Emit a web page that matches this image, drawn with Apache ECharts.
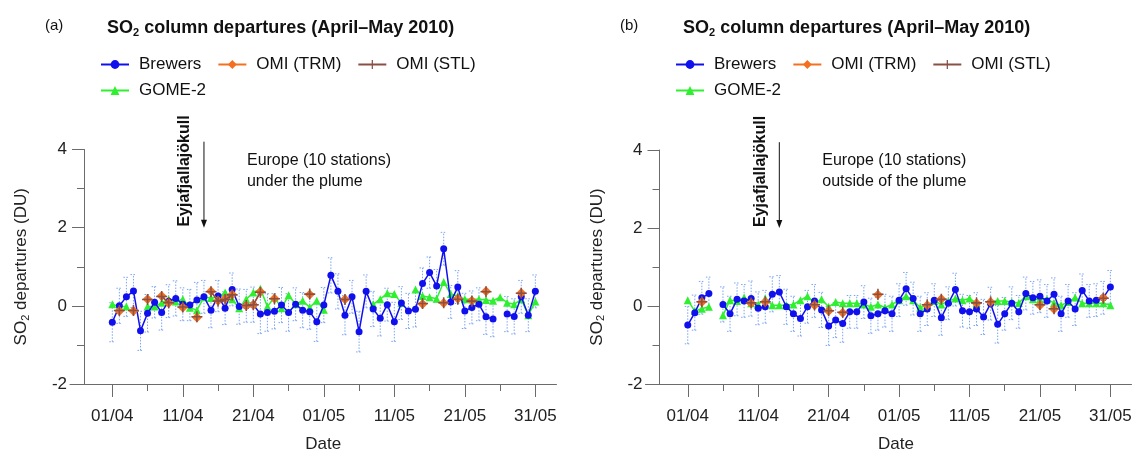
<!DOCTYPE html>
<html>
<head>
<meta charset="utf-8">
<script src="https://cdn.jsdelivr.net/npm/echarts@6/dist/echarts.min.js"></script>
<style>
  html, body { margin: 0; padding: 0; background: #fff; }
  #chart { width: 1135px; height: 458px; }
</style>
</head>
<body>
<div id="chart"></div>
<script>
// day index: 0 = 01/04/2010 ... 60 = 31/05/2010
const days = Array.from({length: 61}, (_, i) => i);
const tickDays = [0, 10, 20, 30, 40, 50, 60];
const tickLabels = ['01/04', '11/04', '21/04', '01/05', '11/05', '21/05', '31/05'];
const minorDays = [5, 15, 25, 35, 45, 55];

// (a) under the plume
const brewersA = [-0.42, 0.0, 0.23, 0.38, -0.64, -0.19, 0.09, -0.17, 0.12, 0.19,
  0.04, 0.02, 0.15, 0.23, -0.11, 0.25, -0.06, 0.42, -0.02, 0.0,
  0.03, -0.21, -0.17, -0.14, 0.02, -0.17, 0.04, -0.11, -0.15, -0.41,
  0.02, 0.78, 0.37, -0.24, 0.23, -0.66, 0.37, -0.08, -0.32, 0.03,
  -0.41, 0.07, -0.13, -0.09, 0.57, 0.85, 0.51, 1.46, 0.10, 0.48,
  -0.13, -0.04, 0.04, -0.28, -0.34, null, -0.21, -0.27, 0.23, -0.24, 0.37];
const brewersErrA = [0.5, 0.45, 0.5, 0.42, 0.5, 0.48, 0.4, 0.45, 0.42, 0.45,
  0.42, 0.4, 0.45, 0.42, 0.45, 0.4, 0.42, 0.42, 0.45, 0.42,
  0.45, 0.5, 0.48, 0.45, 0.45, 0.48, 0.42, 0.45, 0.45, 0.5,
  0.45, 0.45, 0.45, 0.5, 0.42, 0.52, 0.42, 0.45, 0.45, 0.42,
  0.5, 0.42, 0.45, 0.45, 0.4, 0.4, 0.42, 0.42, 0.42, 0.42,
  0.45, 0.42, 0.42, 0.45, 0.45, null, 0.45, 0.45, 0.42, 0.42, 0.42];
const gomeA = [0.04, -0.02, -0.02, null, null, -0.02, -0.02, 0.08, 0.17, 0.11,
  0.17, -0.05, -0.11, 0.22, 0.2, 0.22, 0.34, 0.17, -0.06, 0.17,
  0.34, 0.44, -0.02, 0.22, -0.06, 0.27, 0.04, 0.13, -0.04, 0.13,
  -0.1, null, null, null, null, null, null, 0.04, 0.17, 0.32,
  0.3, 0.07, null, 0.42, 0.25, 0.22, 0.18, 0.61, 0.30, 0.25,
  0.17, 0.17, 0.17, 0.15, 0.13, 0.22, 0.08, 0.04, 0.17, -0.24, 0.11];
const omiTrmA = [null, -0.13, null, -0.13, null, 0.17, null, 0.25, 0.07, null,
  -0.04, null, -0.3, null, 0.37, 0.13, 0.18, 0.29, null, 0.0,
  0.02, 0.36, null, 0.19, null, null, null, null, 0.29, null,
  null, null, null, 0.17, null, null, null, null, null, null,
  null, null, null, null, 0.05, null, null, 0.07, null, 0.18,
  null, 0.13, null, 0.37, null, null, null, null, 0.33, null, null];
const omiStlA = [null, -0.12, null, -0.12, null, 0.16, null, 0.24, 0.08, null,
  -0.03, null, -0.28, null, 0.36, 0.12, 0.16, 0.28, null, 0.01,
  0.03, 0.35, null, 0.18, null, null, null, null, 0.3, null,
  null, null, null, 0.16, null, null, null, null, null, null,
  null, null, null, null, 0.06, null, null, 0.08, null, 0.17,
  null, 0.12, null, 0.36, null, null, null, null, 0.32, null, null];

// (b) outside of the plume
const brewersB = [-0.49, -0.17, 0.21, 0.32, null, 0.04, -0.2, 0.17, 0.13, 0.19,
  -0.06, -0.02, 0.3, 0.36, -0.02, -0.2, -0.32, -0.02, 0.13, -0.1,
  -0.51, -0.36, -0.45, -0.15, -0.15, 0.1, -0.25, -0.2, -0.12, -0.2,
  0.15, 0.44, 0.19, -0.2, -0.08, 0.15, -0.3, 0.07, 0.42, -0.12,
  -0.15, -0.08, -0.28, 0.06, -0.47, -0.2, 0.07, -0.15, 0.32, 0.21,
  0.25, 0.13, 0.3, -0.2, 0.13, -0.08, 0.4, 0.13, 0.15, 0.21, 0.49];
const brewersErrB = [0.48, 0.45, 0.42, 0.42, null, 0.45, 0.45, 0.42, 0.42, 0.45,
  0.42, 0.42, 0.45, 0.42, 0.45, 0.45, 0.45, 0.42, 0.42, 0.45,
  0.5, 0.45, 0.48, 0.42, 0.42, 0.42, 0.45, 0.42, 0.42, 0.45,
  0.42, 0.42, 0.42, 0.45, 0.42, 0.42, 0.45, 0.42, 0.42, 0.42,
  0.42, 0.42, 0.45, 0.42, 0.48, 0.42, 0.42, 0.42, 0.42, 0.42,
  0.42, 0.42, 0.42, 0.45, 0.42, 0.42, 0.42, 0.42, 0.42, 0.42, 0.42];
const gomeB = [0.15, -0.13, -0.07, -0.02, null, -0.24, 0.15, 0.13, 0.22, 0.07,
  0.04, 0.19, 0.02, 0.02, 0.02, 0.04, 0.15, 0.25, 0.07, 0.17,
  -0.02, 0.1, 0.07, 0.07, 0.07, 0.04, -0.02, 0.04, -0.04, 0.04,
  0.15, 0.25, 0.15, -0.04, 0.02, 0.13, 0.04, 0.13, 0.19, 0.15,
  0.19, 0.08, null, 0.13, 0.13, 0.13, 0.1, 0.08, 0.25, 0.17,
  0.17, 0.17, 0.08, 0.02, 0.1, 0.22, 0.07, 0.07, 0.07, 0.07, 0.02];
const omiTrmB = [null, null, 0.1, null, null, null, null, null, null, 0.07,
  null, 0.1, null, null, null, null, null, null, 0.02, null,
  -0.13, null, -0.17, null, null, null, null, 0.29, null, null,
  null, null, null, null, 0.02, null, 0.18, null, null, null,
  null, 0.07, null, 0.1, null, null, null, null, null, null,
  0.02, null, -0.08, null, null, null, null, null, null, 0.21, null];
const omiStlB = [null, null, 0.11, null, null, null, null, null, null, 0.08,
  null, 0.11, null, null, null, null, null, null, 0.03, null,
  -0.12, null, -0.16, null, null, null, null, 0.3, null, null,
  null, null, null, null, 0.03, null, 0.17, null, null, null,
  null, 0.08, null, 0.11, null, null, null, null, null, null,
  0.03, null, -0.07, null, null, null, null, null, null, 0.2, null];

const FONT = '"Liberation Sans", Arial, sans-serif';
const AXIS_COLOR = '#6b6b6b';
const BLUE = '#1010ee';
const GREEN = '#2ef02e';
const ORANGE = '#f2701f';
const BROWN = '#8a4f45';
const ERR = '#7aa4f5';
const PLUS = 'path://M4.3,0H5.7V4.3H10V5.7H5.7V10H4.3V5.7H0V4.3H4.3Z';

const chart = echarts.init(document.getElementById('chart'));

function pairs(values) {
  return values.map((v, i) => [days[i], v]);
}

// dotted error bars of the Brewer network
function errorBars(values, errs, idx) {
  const data = [];
  values.forEach((v, i) => {
    if (v != null && errs[i] != null) data.push([days[i], v - errs[i], v + errs[i]]);
  });
  return {
    type: 'custom',
    xAxisIndex: idx,
    yAxisIndex: idx,
    silent: true,
    z: 1,
    data: data,
    renderItem: function(params, api) {
      const lo = api.coord([api.value(0), api.value(1)]);
      const hi = api.coord([api.value(0), api.value(2)]);
      const w = 3;
      const st = {stroke: ERR, lineWidth: 1, lineDash: [1.5, 1.5], fill: null};
      return {
        type: 'group',
        children: [
          {type: 'line', shape: {x1: lo[0], y1: lo[1], x2: hi[0], y2: hi[1]}, style: st},
          {type: 'line', shape: {x1: lo[0] - w, y1: lo[1], x2: lo[0] + w, y2: lo[1]}, style: st},
          {type: 'line', shape: {x1: hi[0] - w, y1: hi[1], x2: hi[0] + w, y2: hi[1]}, style: st}
        ]
      };
    }
  };
}

function line(name, values, idx, color, symbol, size, width, z) {
  return {
    name: name,
    type: 'line',
    xAxisIndex: idx,
    yAxisIndex: idx,
    data: pairs(values),
    symbol: symbol,
    symbolSize: size,
    showAllSymbol: true,
    lineStyle: {color: color, width: width},
    itemStyle: {color: color},
    z: z,
    animation: false
  };
}

function panelSeries(idx, brewers, errs, gome, trm, stl) {
  return [
    errorBars(brewers, errs, idx),
    line('GOME-2', gome, idx, GREEN, 'triangle', 8, 1.5, 2),
    line('Brewers', brewers, idx, BLUE, 'circle', 7, 1.5, 3),
    line('OMI (TRM)', trm, idx, ORANGE, 'diamond', 10, 1.5, 4),
    line('OMI (STL)', stl, idx, BROWN, PLUS, 11, 1.5, 5)
  ];
}

function xAxisMain(gridIndex, shift) {
  return {
    type: 'value', gridIndex: gridIndex, position: 'bottom',
    min: -6, max: 63,
    name: 'Date', nameLocation: 'middle', nameGap: 52,
    nameTextStyle: {fontSize: 17, color: '#222', fontFamily: FONT, padding: [0, 0, 0, shift]},
    axisLine: {onZero: false, lineStyle: {color: AXIS_COLOR}},
    axisTick: {customValues: tickDays, length: 13, lineStyle: {color: AXIS_COLOR}},
    axisLabel: {
      customValues: tickDays, margin: 24, fontSize: 17, color: '#222', fontFamily: FONT,
      formatter: v => tickLabels[tickDays.indexOf(v)]
    },
    splitLine: {show: false}
  };
}

function xAxisMinor(gridIndex) {
  return {
    type: 'value', gridIndex: gridIndex, position: 'bottom',
    min: -6, max: 63,
    axisLine: {show: false, onZero: false},
    axisTick: {customValues: minorDays, length: 7, lineStyle: {color: AXIS_COLOR}},
    axisLabel: {show: false},
    splitLine: {show: false}
  };
}

function yAxis(gridIndex) {
  return {
    type: 'value', gridIndex: gridIndex,
    min: -2, max: 4, interval: 2,
    offset: -14,
    name: '{a|SO}{s|2}{a| departures (DU)}',
    nameLocation: 'middle', nameGap: 53,
    nameTextStyle: {
      rich: {
        a: {fontSize: 17, color: '#222', fontFamily: FONT},
        s: {fontSize: 11, color: '#222', fontFamily: FONT, verticalAlign: 'bottom', padding: [8, 0, 0, 0]}
      }
    },
    axisLine: {show: true, onZero: false, lineStyle: {color: AXIS_COLOR}},
    axisTick: {show: true, length: 12, lineStyle: {color: AXIS_COLOR}},
    minorTick: {show: true, splitNumber: 2, length: 7, lineStyle: {color: AXIS_COLOR}},
    axisLabel: {margin: 17, fontSize: 17, color: '#222', fontFamily: FONT},
    splitLine: {show: false}
  };
}

const titleRich = {
  b: {fontSize: 18, fontWeight: 'bold', color: '#111', fontFamily: FONT},
  s: {fontSize: 11, fontWeight: 'bold', color: '#111', fontFamily: FONT, verticalAlign: 'bottom', padding: [9, 0, 0, 0]}
};
const titleText = '{b|SO}{s|2}{b| column departures (April\u2013May 2010)}';

function legends(left) {
  const base = {
    left: left, orient: 'horizontal', itemWidth: 28, itemHeight: 11, itemGap: 16,
    textStyle: {fontSize: 17, color: '#111', fontFamily: FONT, padding: [0, 0, 0, 5]},
    selectedMode: false
  };
  return [
    Object.assign({}, base, {top: 51, data: ['Brewers', 'OMI (TRM)', 'OMI (STL)']}),
    Object.assign({}, base, {top: 77, data: ['GOME-2']})
  ];
}

chart.setOption({
  backgroundColor: '#fff',
  animation: false,
  title: [
    {text: '(a)', left: 40, top: 13, textStyle: {fontSize: 15, fontWeight: 'normal', color: '#111', fontFamily: FONT}},
    {text: titleText, left: 102, top: 13, textStyle: {rich: titleRich}},
    {text: '(b)', left: 615, top: 13, textStyle: {fontSize: 15, fontWeight: 'normal', color: '#111', fontFamily: FONT}},
    {text: titleText, left: 678, top: 13, textStyle: {rich: titleRich}}
  ],
  legend: legends(95).concat(legends(670)),
  grid: [
    {left: 70, top: 149.5, width: 486.5, height: 236.5},
    {left: 645.5, top: 150, width: 486, height: 236}
  ],
  xAxis: [xAxisMain(0, 20), xAxisMain(1, 15), xAxisMinor(0), xAxisMinor(1)],
  yAxis: [yAxis(0), yAxis(1)],
  series: panelSeries(0, brewersA, brewersErrA, gomeA, omiTrmA, omiStlA)
    .concat(panelSeries(1, brewersB, brewersErrB, gomeB, omiTrmB, omiStlB))
});

// annotations placed in data coordinates
const notes = [
  {grid: 0, lines: ['Europe (10 stations)', 'under the plume']},
  {grid: 1, lines: ['Europe (10 stations)', 'outside of the plume']}
];
const graphics = [];
notes.forEach(n => {
  const top = chart.convertToPixel({gridIndex: n.grid}, [13, 4.2]);
  const tip = chart.convertToPixel({gridIndex: n.grid}, [13, 2.0]);
  const vname = chart.convertToPixel({gridIndex: n.grid}, [10.3, 3.45]);
  const txt = chart.convertToPixel({gridIndex: n.grid}, [19.1, 3.73]);
  graphics.push({
    type: 'line', shape: {x1: top[0], y1: top[1], x2: tip[0], y2: tip[1] - 4},
    style: {stroke: '#111', lineWidth: 1}
  });
  graphics.push({
    type: 'polygon', shape: {points: [[tip[0] - 3, tip[1] - 8], [tip[0] + 3, tip[1] - 8], [tip[0], tip[1]]]},
    style: {fill: '#111'}
  });
  graphics.push({
    type: 'text', x: vname[0], y: vname[1], rotation: Math.PI / 2,
    style: {text: 'Eyjafjallajökull', font: 'bold 16px ' + FONT, fill: '#111', align: 'center', verticalAlign: 'middle'}
  });
  graphics.push({
    type: 'text', x: txt[0], y: txt[1],
    style: {text: n.lines.join('\n'), font: '16px ' + FONT, fill: '#111', align: 'left', verticalAlign: 'top', lineHeight: 21, y: -10}
  });
});
chart.setOption({graphic: graphics});
</script>
</body>
</html>
